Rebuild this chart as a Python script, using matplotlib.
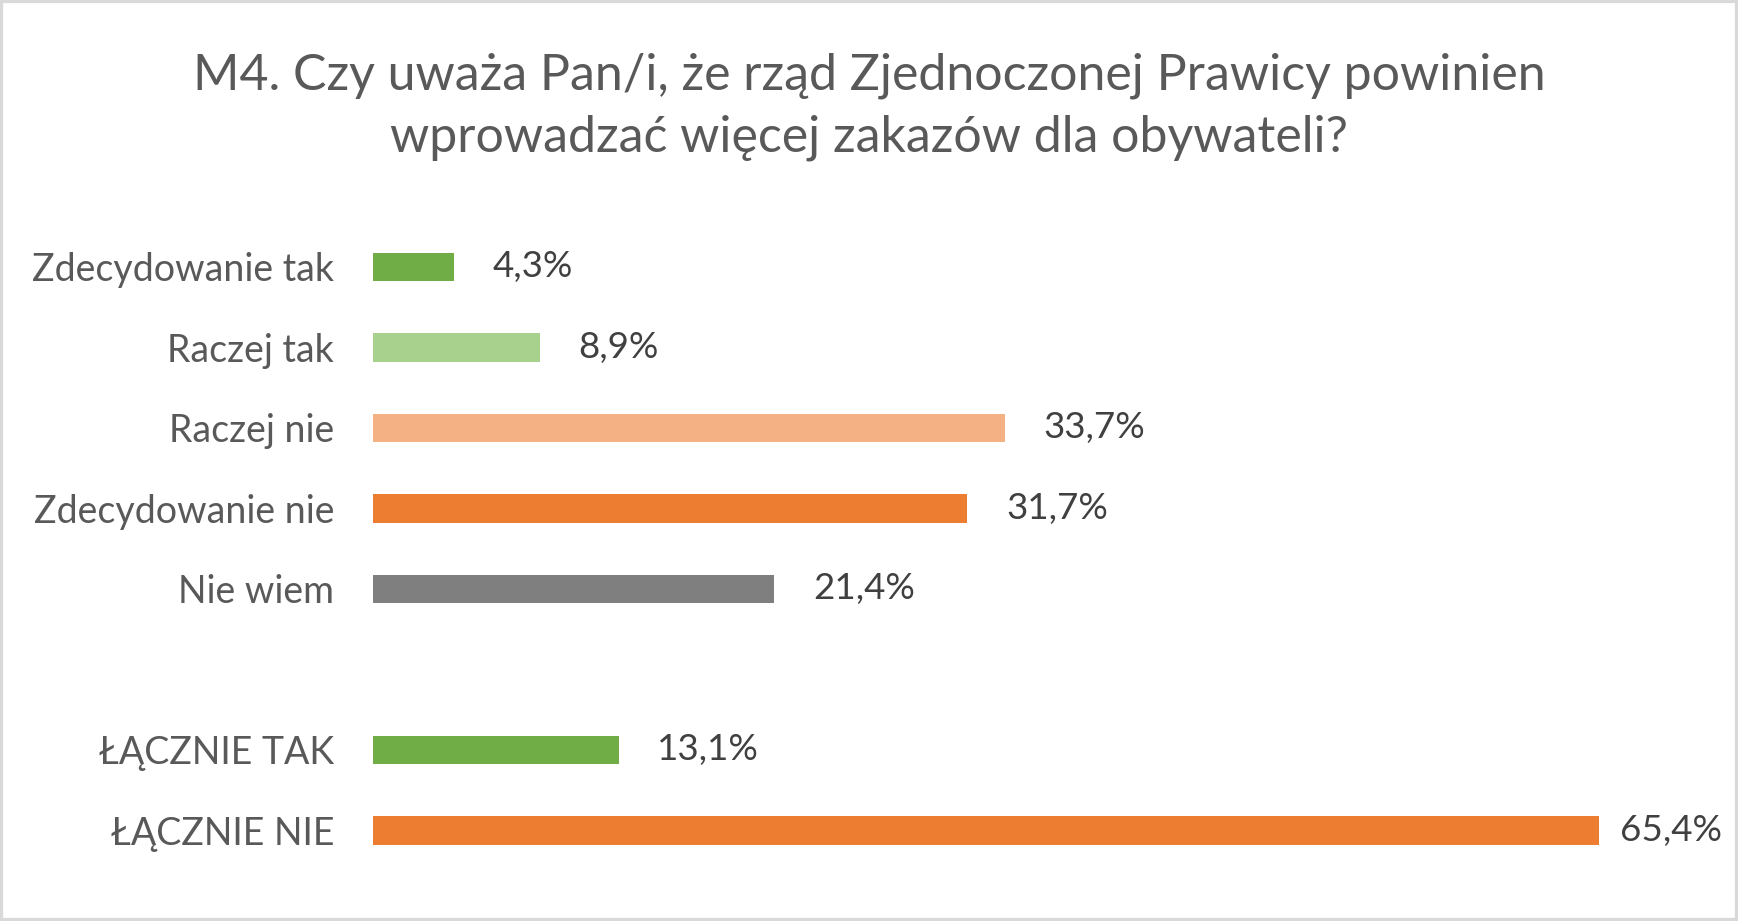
import matplotlib
matplotlib.use("Agg")
import matplotlib.pyplot as plt
from matplotlib.patches import Rectangle

# data
categories = ["Zdecydowanie tak", "Raczej tak", "Raczej nie", "Zdecydowanie nie",
              "Nie wiem", "ŁĄCZNIE TAK", "ŁĄCZNIE NIE"]
values = [4.3, 8.9, 33.7, 31.7, 21.4, 13.1, 65.4]
colors = ["#70AD47", "#A9D18E", "#F4B183", "#ED7D31", "#7F7F7F", "#70AD47", "#ED7D31"]

title = "M4. Czy uważa Pan/i, że rząd Zjednoczonej Prawicy powinien\nwprowadzać więcej zakazów dla obywateli?"

plt.rcParams['font.family'] = ['Lato', 'DejaVu Sans']

fig = plt.figure(figsize=(17.38, 9.21), dpi=100)
ax = fig.add_axes([0.2146, 0.0546, 0.755, 0.6992])

# one empty slot between the answers and the totals
ypos = [i if i < 5 else i + 1 for i in range(len(categories))]

bars = ax.barh(ypos, values, height=0.35, color=colors)

labels = []
for y, v in zip(ypos, values):
    t = ax.annotate(f"{v:.1f}%".replace(".", ","), xy=(v, y), xytext=(28, 0),
                    textcoords="offset points", va="center", ha="left",
                    fontsize=26.5, color="#404040")
    labels.append(t)

ax.set_yticks(ypos)
ax.set_yticklabels(categories, fontsize=27, color="#595959")
ax.tick_params(axis="y", length=0, pad=28)
ax.set_xticks([])
ax.set_xlim(0, 70)
ax.set_ylim(7.5, -0.5)
for s in ax.spines.values():
    s.set_visible(False)

fig.text(0.5, 0.884, title, ha="center", va="center", fontsize=36,
         color="#595959", linespacing=1.4)

fig.patches.append(Rectangle((0, 0), 1, 1, transform=fig.transFigure,
                             fill=False, edgecolor="#D9D9D9", linewidth=4.5))

# like Excel, pull a label back in if it would run past the chart edge
fig.canvas.draw()
limit = 1722
for t in labels:
    bb = t.get_window_extent()
    if bb.x1 > limit:
        dx = (bb.x1 - limit) * 72 / fig.dpi
        t.set_position((28 - dx, 0))

fig.savefig("out.png", dpi=100)
